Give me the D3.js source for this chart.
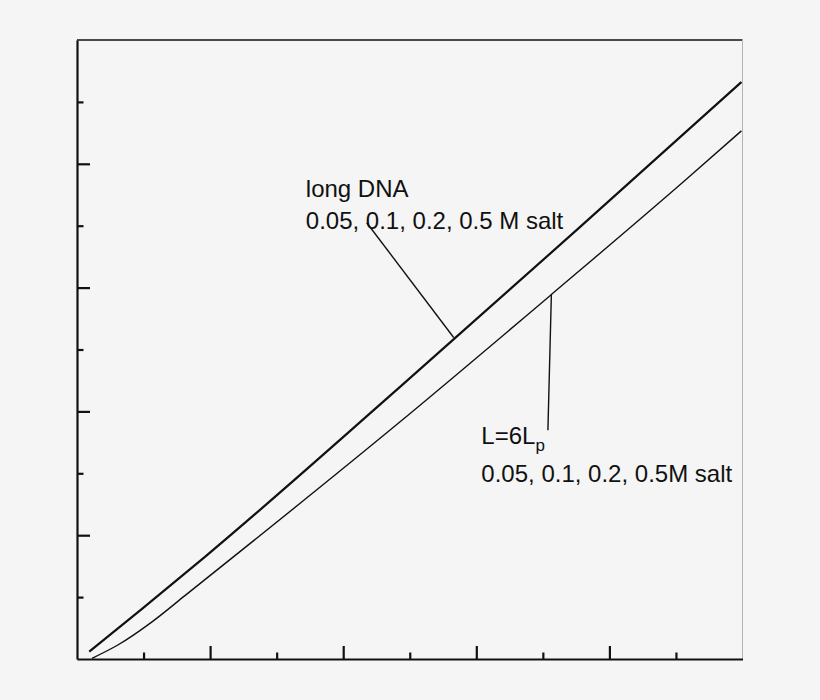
<!DOCTYPE html>
<html>
<head>
<meta charset="utf-8">
<script src="https://cdn.jsdelivr.net/npm/d3@7"></script>
<style>
  html, body { margin: 0; padding: 0; background: #f5f5f5; }
  svg { display: block; }
  text { font-family: "Liberation Sans", Arial, Helvetica, sans-serif; fill: #111; }
</style>
</head>
<body>
<svg id="chart" width="820" height="700"></svg>
<script>
// ---- data (axis units: 0..5 on both axes, no tick labels shown) ----
const majorTicks = [1, 2, 3, 4];
const minorTicks = [0.5, 1.5, 2.5, 3.5, 4.5];

// long DNA curve
const longX = [0.092, 0.493, 0.968, 2.425, 3.776, 4.992];
const longY = [0.059, 0.409, 0.831, 2.196, 3.486, 4.661];

// L = 6 Lp curve
const shortX = [0.113, 0.310, 0.561, 0.811, 2.425, 3.564, 4.565, 4.992];
const shortY = [0.006, 0.115, 0.298, 0.512, 1.914, 2.944, 3.863, 4.266];

// annotations
const labelLong = ["long DNA", "0.05, 0.1, 0.2, 0.5 M salt"];
const labelShortMain = "L=6L";
const labelShortSub = "p";
const labelShortLine2 = "0.05, 0.1, 0.2, 0.5M salt";
const leaderLong = [[2.177, 3.524], [2.830, 2.597]];
const leaderShort = [[3.564, 2.944], [3.538, 1.847]];
const textLongPos = [1.719, 3.732];
const textShortPos = [3.038, 1.739];

// ---- layout ----
const svg = d3.select("#chart");
const x = d3.scaleLinear().domain([0, 5]).range([77, 742.5]);
const y = d3.scaleLinear().domain([0, 5]).range([659, 40]);

// frame: top (black) and right (light gray)
svg.append("line").attr("x1", x(0)).attr("x2", x(5)).attr("y1", y(5)).attr("y2", y(5))
  .attr("stroke", "#111").attr("stroke-width", 1.5);
svg.append("line").attr("x1", x(5)).attr("x2", x(5)).attr("y1", y(5)).attr("y2", y(0))
  .attr("stroke", "#b4b4b4").attr("stroke-width", 1);

// axes
function styleAxis(g) {
  g.selectAll("path.domain").attr("stroke", "#111").attr("stroke-width", 2.2);
  g.selectAll(".tick line").attr("stroke", "#111").attr("stroke-width", 2.2);
  g.selectAll(".tick text").remove();
}
const gx = svg.append("g").attr("transform", `translate(0,${y(0)})`);
gx.call(d3.axisBottom(x).tickValues(majorTicks).tickSizeInner(-13).tickSizeOuter(0).tickFormat(""));
styleAxis(gx);
const gxm = svg.append("g").attr("transform", `translate(0,${y(0)})`);
gxm.call(d3.axisBottom(x).tickValues(minorTicks).tickSizeInner(-6.5).tickSizeOuter(0).tickFormat(""));
styleAxis(gxm);
gxm.select("path.domain").remove();

const gy = svg.append("g").attr("transform", `translate(${x(0)},0)`);
gy.call(d3.axisLeft(y).tickValues(majorTicks).tickSizeInner(-13).tickSizeOuter(0).tickFormat(""));
styleAxis(gy);
const gym = svg.append("g").attr("transform", `translate(${x(0)},0)`);
gym.call(d3.axisLeft(y).tickValues(minorTicks).tickSizeInner(-6.5).tickSizeOuter(0).tickFormat(""));
styleAxis(gym);
gym.select("path.domain").remove();

// curves
const line = d3.line().x(d => x(d[0])).y(d => y(d[1])).curve(d3.curveMonotoneX);
svg.append("path").datum(longX.map((v, i) => [v, longY[i]]))
  .attr("d", line).attr("fill", "none").attr("stroke", "#111").attr("stroke-width", 2.2);
svg.append("path").datum(shortX.map((v, i) => [v, shortY[i]]))
  .attr("d", line).attr("fill", "none").attr("stroke", "#111").attr("stroke-width", 1.4);

// leaders
const straight = d3.line().x(d => x(d[0])).y(d => y(d[1]));
svg.append("path").datum(leaderLong).attr("d", straight)
  .attr("fill", "none").attr("stroke", "#111").attr("stroke-width", 1.4);
svg.append("path").datum(leaderShort).attr("d", straight)
  .attr("fill", "none").attr("stroke", "#111").attr("stroke-width", 1.4);

// labels
const fs = 24;
svg.append("text").attr("x", x(textLongPos[0])).attr("y", y(textLongPos[1]))
  .attr("font-size", fs).text(labelLong[0]);
svg.append("text").attr("x", x(textLongPos[0])).attr("y", y(textLongPos[1]) + 31.6)
  .attr("font-size", fs).text(labelLong[1]);

const t2 = svg.append("text").attr("x", x(textShortPos[0])).attr("y", y(textShortPos[1]))
  .attr("font-size", fs);
t2.append("tspan").text(labelShortMain);
t2.append("tspan").attr("font-size", 17).attr("dy", 7).text(labelShortSub);
svg.append("text").attr("x", x(textShortPos[0])).attr("y", y(textShortPos[1]) + 38.4)
  .attr("font-size", fs).text(labelShortLine2);
</script>
</body>
</html>
